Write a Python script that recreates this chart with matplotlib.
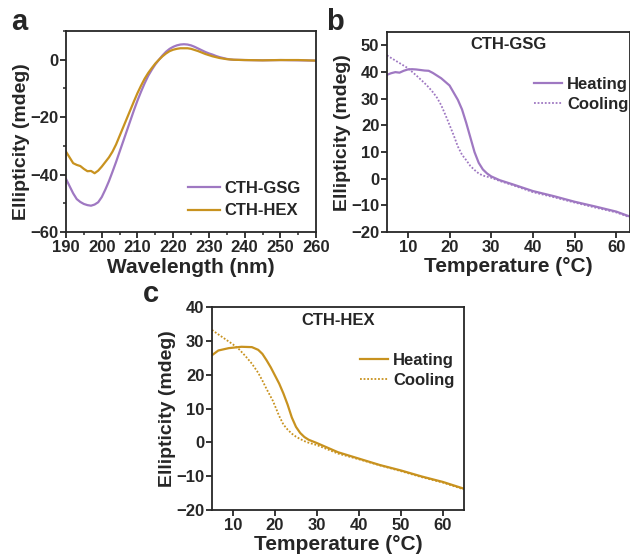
import matplotlib
matplotlib.use("Agg")
import matplotlib.pyplot as plt
from matplotlib.ticker import MultipleLocator

plt.rcParams['font.family'] = ['Liberation Sans', 'DejaVu Sans']
plt.rcParams['font.weight'] = 'bold'
plt.rcParams['text.color'] = '#262626'
plt.rcParams['axes.labelcolor'] = '#262626'
plt.rcParams['xtick.color'] = '#262626'
plt.rcParams['ytick.color'] = '#262626'

PURPLE = '#9f78c2'
GOLD = '#c8921f'

# ---- panel a: CD spectra
wl = [190, 191, 192, 193, 194, 195, 196, 197, 198, 199, 200, 201, 202, 203, 204,
      205, 206, 207, 208, 209, 210, 211, 212, 213, 214, 215, 216, 217, 218, 219,
      220, 221, 222, 223, 224, 225, 226, 227, 228, 229, 230, 231, 232, 233, 234,
      235, 236, 237, 240, 245, 250, 255, 260]
gsg = [-41.5, -44, -46.5, -48.5, -49.5, -50.2, -50.6, -50.8, -50.4, -49.6, -47.8,
       -45.2, -42.3, -39, -35.6, -32, -28.4, -24.8, -21.2, -17.6, -14.2, -11.1,
       -8.2, -5.6, -3.5, -1.6, 0, 1.5, 2.8, 3.8, 4.5, 5, 5.3, 5.4, 5.3, 5, 4.5,
       3.9, 3.3, 2.7, 2.2, 1.8, 1.3, 0.9, 0.6, 0.3, 0.1, 0, -0.1, -0.2, -0.1, -0.2, -0.3]
hex_ = [-32, -34, -36, -36.6, -37, -38, -38.8, -38.7, -39.5, -38.6, -37.2, -35.6,
        -34, -32, -29.5, -26.5, -23.5, -20.5, -17.5, -14.5, -11.6, -9, -6.6, -4.6,
        -2.9, -1.3, 0, 1.2, 2.2, 3, 3.5, 3.8, 4, 4, 4, 3.8, 3.4, 3, 2.5, 2, 1.6,
        1.2, 0.9, 0.6, 0.4, 0.2, 0.1, 0, -0.1, -0.2, -0.1, -0.1, -0.3]

# ---- panel b: CTH-GSG melting
t_b_heat = [5, 6, 7, 8, 9, 10, 11, 12, 14, 15, 16, 18, 20, 21, 22, 23, 24, 25,
            26, 27, 28, 29, 30, 32, 35, 40, 45, 50, 55, 60, 63]
gsg_heat = [39, 39.6, 40, 39.8, 40.5, 41, 41.1, 41, 40.6, 40.5, 39.7, 37.7, 35,
            32.3, 29.6, 26, 21, 15.5, 10, 6, 3.5, 2, 0.9, -0.5, -2, -4.6, -6.5,
            -8.6, -10.4, -12.3, -14]
t_b_cool = [5, 6, 8, 10, 12, 14, 15, 16, 17, 18, 19, 20, 21, 22, 23, 24, 25, 26,
            27, 28, 30, 32, 35, 40, 45, 50, 55, 60, 63]
gsg_cool = [46.3, 45.3, 43.4, 41.5, 38.8, 35.9, 34.3, 32.5, 30.4, 27.6, 24, 20.2,
            16.3, 12.1, 9, 7, 4.8, 3.3, 2, 1.2, 0.4, -0.8, -2.3, -5, -6.9, -8.9,
            -10.8, -12.6, -14.3]

# ---- panel c: CTH-HEX melting
t_c_heat = [5, 6.5, 9, 12, 14.5, 16, 17, 18, 19, 20, 21, 22, 23, 24, 25, 26, 27,
            28, 30, 35, 40, 45, 50, 55, 60, 65]
hex_heat = [25.8, 27.2, 27.9, 28.3, 28.2, 27.4, 26.2, 24.3, 22.2, 19.8, 17.4,
            14.5, 11.2, 7.4, 4.6, 2.8, 1.6, 0.8, -0.2, -2.9, -4.8, -6.7, -8.3,
            -10.1, -11.7, -13.7]
t_c_cool = [5, 6, 8, 10, 11.5, 13, 14.5, 16, 17, 18, 19.5, 21, 22, 23, 24, 25,
            26, 27.5, 30, 35, 40, 45, 50, 55, 60, 65]
hex_cool = [33.3, 32.4, 30.7, 29, 27.5, 25.5, 23.3, 20.6, 18.3, 15.8, 12.3, 7.8,
            5.3, 3.8, 2.6, 1.7, 1, 0.1, -0.8, -3.3, -5, -6.8, -8.5, -10.3, -11.9,
            -13.9]

fig = plt.figure(figsize=(6.3, 5.54), dpi=100)

ax_a = fig.add_axes([0.1048, 0.581, 0.397, 0.363])
ax_b = fig.add_axes([0.6143, 0.581, 0.3857, 0.361])
ax_c = fig.add_axes([0.3365, 0.0794, 0.4, 0.366])

for ax in (ax_a, ax_b, ax_c):
    for s in ax.spines.values():
        s.set_linewidth(1.3)
        s.set_color('#262626')
    ax.tick_params(which='major', direction='out', length=4, width=1.3,
                   labelsize=12, pad=1.5)
    ax.tick_params(which='minor', direction='out', length=2.5, width=1.1)

leg_kw = dict(frameon=False, prop={'size': 12, 'weight': 'bold'},
              handletextpad=0.3, borderpad=0, borderaxespad=0)

# a
ax_a.plot(wl, gsg, color=PURPLE, lw=1.6, label='CTH-GSG')
ax_a.plot(wl, hex_, color=GOLD, lw=1.6, label='CTH-HEX')
ax_a.set_xlim(190, 260)
ax_a.set_ylim(-60, 10)
ax_a.xaxis.set_major_locator(MultipleLocator(10))
ax_a.xaxis.set_minor_locator(MultipleLocator(5))
ax_a.yaxis.set_minor_locator(MultipleLocator(10))
ax_a.set_yticks([-60, -40, -20, 0])
ax_a.set_xlabel('Wavelength (nm)', fontsize=15, fontweight='bold', labelpad=2.5)
ax_a.set_ylabel('Ellipticity (mdeg)', fontsize=14, fontweight='bold', labelpad=0)
ax_a.yaxis.label.set_y(0.45)
ax_a.legend(loc='upper left', bbox_to_anchor=(0.488, 0.255), handlelength=1.9,
            labelspacing=0.45, **leg_kw)

# b
ax_b.plot(t_b_heat, gsg_heat, color=PURPLE, lw=1.6, label='Heating')
ax_b.plot(t_b_cool, gsg_cool, color=PURPLE, lw=1.3, ls=(0, (1, 1)), label='Cooling')
ax_b.set_xlim(5, 63.3)
ax_b.set_ylim(-20, 55)
ax_b.set_xticks([10, 20, 30, 40, 50, 60])
ax_b.set_yticks([-20, -10, 0, 10, 20, 30, 40, 50])
ax_b.set_xlabel('Temperature (°C)', fontsize=15, fontweight='bold', labelpad=1.5)
ax_b.set_ylabel('Ellipticity (mdeg)', fontsize=14, fontweight='bold', labelpad=0)
ax_b.text(0.5, 0.94, 'CTH-GSG', transform=ax_b.transAxes, ha='center',
          va='center', fontsize=12, fontweight='bold')
ax_b.legend(loc='upper left', bbox_to_anchor=(0.605, 0.775), handlelength=1.7,
            labelspacing=0.3, **leg_kw)

# c
ax_c.plot(t_c_heat, hex_heat, color=GOLD, lw=1.6, label='Heating')
ax_c.plot(t_c_cool, hex_cool, color=GOLD, lw=1.3, ls=(0, (1, 1)), label='Cooling')
ax_c.set_xlim(5, 65)
ax_c.set_ylim(-20, 40)
ax_c.set_xticks([10, 20, 30, 40, 50, 60])
ax_c.set_yticks([-20, -10, 0, 10, 20, 30, 40])
ax_c.set_xlabel('Temperature (°C)', fontsize=15, fontweight='bold', labelpad=1.5)
ax_c.set_ylabel('Ellipticity (mdeg)', fontsize=14, fontweight='bold', labelpad=0)
ax_c.text(0.5, 0.936, 'CTH-HEX', transform=ax_c.transAxes, ha='center',
          va='center', fontsize=12, fontweight='bold')
ax_c.legend(loc='upper left', bbox_to_anchor=(0.587, 0.775), handlelength=1.7,
            labelspacing=0.3, **leg_kw)

for ax in (ax_a, ax_b, ax_c):
    for lab in ax.get_xticklabels() + ax.get_yticklabels():
        lab.set_fontweight('bold')

# panel letters
fig.text(0.018, 0.945, 'a', fontsize=21, fontweight='bold', va='baseline')
fig.text(0.518, 0.945, 'b', fontsize=21, fontweight='bold', va='baseline')
fig.text(0.226, 0.455, 'c', fontsize=21, fontweight='bold', va='baseline')

fig.savefig('out.png', dpi=100)
